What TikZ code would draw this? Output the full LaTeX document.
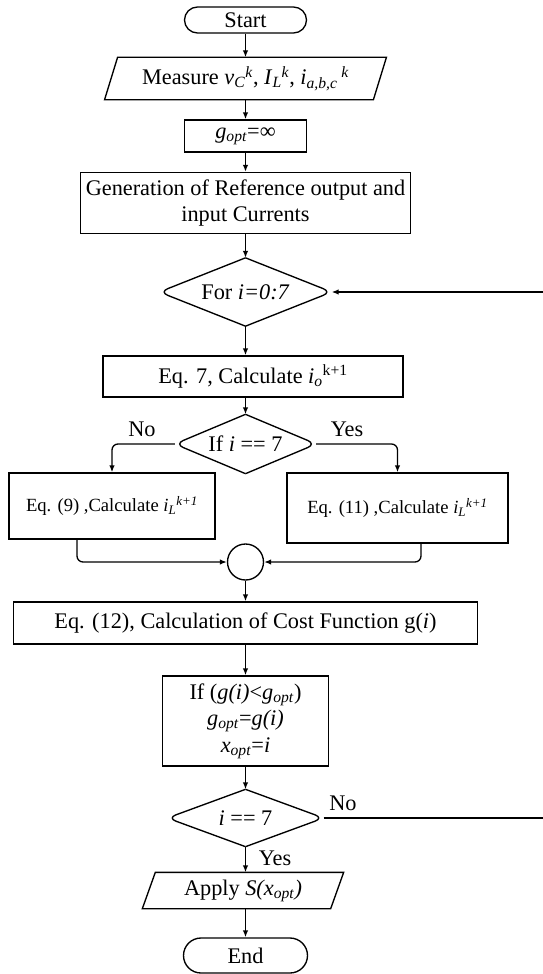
\documentclass[tikz,border=0pt]{standalone}
\usepackage{fontspec}
\setmainfont{Liberation Serif}
\usetikzlibrary{shapes.misc,arrows.meta}

\newcommand{\opt}{\textsubscript{\textit{opt}}}

\begin{document}
\begin{tikzpicture}[x=1pt,y=-1pt,>={Latex[length=7pt,width=5.5pt]},line width=1.35pt,
	font=\fontsize{22.3}{26.5}\selectfont,
	every node/.style={inner sep=0pt},
	term/.style={rounded rectangle,draw,minimum width=122pt,minimum height=#1},
	proc/.style={draw,minimum height=#1,align=center},
	small/.style={font=\fontsize{18.6}{22}\selectfont},
	io/.style={minimum height=#1,append after command={\pgfextra{\draw ([xshift=-6.5pt]\tikzlastnode.south west) -- ([xshift=6.5pt]\tikzlastnode.north west) -- ([xshift=6.5pt]\tikzlastnode.north east) -- ([xshift=-6.5pt]\tikzlastnode.south east) -- cycle;}}},
	decide/.style={minimum height=#1,append after command={\pgfextra{\draw[rounded corners=9pt] (\tikzlastnode.north) -- (\tikzlastnode.east) -- (\tikzlastnode.south); \draw[rounded corners=9pt] (\tikzlastnode.north) -- (\tikzlastnode.west) -- (\tikzlastnode.south);}}},
	link/.style={->,rounded corners=6pt}]
	\useasboundingbox (0,0) rectangle (542,974);
	\node[term=26pt] (start) at (245.5,20) {Start};
	\node[io=41pt,minimum width=267.5pt] (meas) at (245.5,78.5) {Measure \textit{v}\textsubscript{\textit{C}}\textsuperscript{\textit{k}}, \textit{I}\textsubscript{\textit{L}}\textsuperscript{\textit{k}}, \textit{i}\textsubscript{\textit{a,b,c}}\,\textsuperscript{\textit{k}}};
	\node[proc=32pt,minimum width=122pt] (gopt) at (245.5,136) {\textit{g}\opt=∞};
	\node[proc=61pt,minimum width=330pt] (gen) at (245.5,203) {Generation of Reference output and\\input Currents};
	\node[decide=67pt,minimum width=171pt] (for) at (245.5,292) {For \textit{i=0:7}};
	\node[proc=41pt,minimum width=300pt] (eq7) at (253,376.5) {Eq. 7, Calculate \textit{i}\textsubscript{\textit{o}}\textsuperscript{k+1}};
	\node[decide=58pt,minimum width=140pt] (ifi) at (245.5,444) {If \textit{i} == 7};
	\node[proc=66pt,minimum width=206pt,small] (left) at (112,506) {Eq. (9) ,Calculate \textit{i}\textsubscript{\textit{L}}\textsuperscript{\textit{k+1}}};
	\node[proc=70pt,minimum width=221pt,small] (right) at (397.5,508) {Eq. (11) ,Calculate \textit{i}\textsubscript{\textit{L}}\textsuperscript{\textit{k+1}}};
	\node[circle,draw,minimum size=36pt] (join) at (245.5,562) {};
	\node[proc=42pt,minimum width=464pt] (cost) at (245.5,623) {Eq. (12), Calculation of Cost Function g(\textit{i})};
	\node[proc=90pt,minimum width=166pt] (upd) at (245.5,721) {If (\textit{g(i)}<\textit{g}\opt)\\\textit{g}\opt=\textit{g(i)}\\\textit{x}\opt=\textit{i}};
	\node[decide=56pt,minimum width=155pt] (dec) at (245.5,818) {\textit{i} == 7};
	\node[io=35pt,minimum width=187pt] (apply) at (243,890.5) {Apply \textit{S(x}\opt\textit{)}};
	\node[term=35pt,minimum width=124pt] (end) at (245.5,955.5) {End};
	\node (no1) at (142,429) {No};
	\node (yes1) at (347,429) {Yes};
	\node (no2) at (343,803) {No};
	\node (yes2) at (275,858) {Yes};
	\coordinate (back) at (560,818);
	\draw[->] (start.south) -- (meas.north);
	\draw[->] (meas.south) -- (gopt.north);
	\draw[->] (gopt.south) -- (gen.north);
	\draw[->] (gen.south) -- (for.north);
	\draw[->] (for.south) -- (for.south |- eq7.north);
	\draw[->] (ifi.north |- eq7.south) -- (ifi.north);
	\draw[link] (ifi.west) -| (left.north);
	\draw[link] (ifi.east) -| (right.north);
	\draw[link] ([xshift=-35pt]left.south) |- (join.west);
	\draw[link] ([xshift=23.5pt]right.south) |- (join.east);
	\draw[->] (join.south) -- (cost.north);
	\draw[->] (cost.south) -- (upd.north);
	\draw[->] (upd.south) -- (dec.north);
	\draw[->] (dec.south) -- (dec.south |- apply.north);
	\draw[->] (apply.south -| end.north) -- (end.north);
	\draw[->] (dec.east) -- (back) |- (for.east);
\end{tikzpicture}
\end{document}
